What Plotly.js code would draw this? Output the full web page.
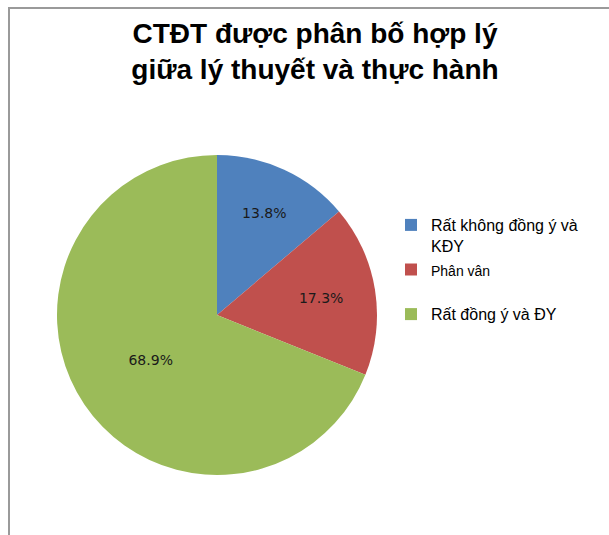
<!DOCTYPE html>
<html>
<head>
<meta charset="utf-8">
<script src="https://cdn.plot.ly/plotly-3.0.1.min.js"></script>
<style>
html,body{margin:0;padding:0;background:#fff;}
#wrap{position:relative;width:609px;height:535px;}
#chart{width:609px;height:535px;}
#frame{position:absolute;left:8px;top:7px;right:-5px;bottom:-5px;border-left:2px solid #9a9a9a;border-top:2px solid #9a9a9a;pointer-events:none;}
</style>
</head>
<body>
<div id="wrap"><div id="chart"></div><div id="frame"></div></div>
<script>
const categories = [
  "Rất không đồng ý và<br>KĐY",
  "<span style=\"font-size:14px\">Phân vân</span><br><span style=\"font-size:32px\">\u00a0</span>",
  "Rất đồng ý và ĐY"
];
const values = [13.8, 17.3, 68.9];
const colors = ["#4F81BD", "#C0504D", "#9BBB59"];
const titleText = "CTĐT được phân bố hợp lý<br>giữa lý thuyết và thực hành";

const W = 609, H = 535;
const cx = 217, cy = 315, r = 160;

const trace = {
  type: "pie",
  labels: categories,
  values: values,
  sort: false,
  direction: "clockwise",
  rotation: 0,
  marker: {colors: colors, line: {width: 0}},
  textinfo: "percent",
  texttemplate: "%{value:.1f}%",
  textposition: "inside",
  insidetextorientation: "horizontal",
  textfont: {family: "DejaVu Sans", size: 14, color: "#1a1a1a"},
  hoverinfo: "label+percent",
  domain: {x: [(cx - r) / W, (cx + r) / W], y: [(H - cy - r) / H, (H - cy + r) / H]}
};

const layout = {
  width: W, height: H,
  margin: {l: 0, r: 0, t: 0, b: 0},
  paper_bgcolor: "#ffffff",
  title: {
    text: titleText,
    font: {family: "Liberation Sans", size: 28, color: "#000", weight: "bold"},
    xref: "container", yref: "container",
    x: 315 / W, xanchor: "center",
    y: 1 - 43 / H, yanchor: "middle"
  },
  showlegend: true,
  legend: {
    x: 391 / W, xanchor: "left",
    y: 1 - 208 / H, yanchor: "top",
    valign: "top",
    font: {family: "Liberation Sans", size: 16, color: "#000"},
    bgcolor: "rgba(0,0,0,0)",
    tracegroupgap: 0
  }
};

Plotly.newPlot("chart", [trace], layout, {displayModeBar: false, staticPlot: true});
</script>
</body>
</html>
